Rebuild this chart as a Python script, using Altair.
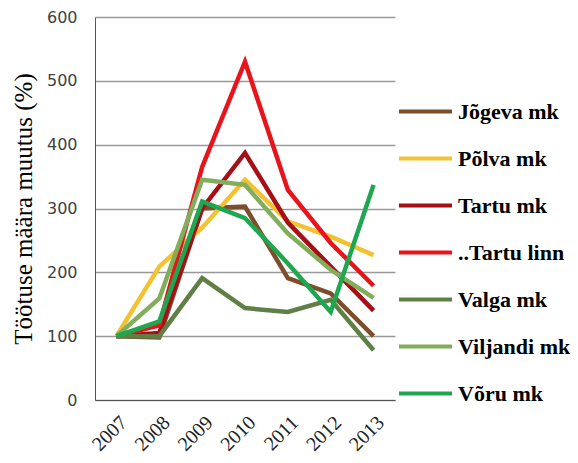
import altair as alt
import pandas as pd

years = ["2007", "2008", "2009", "2010", "2011", "2012", "2013"]
series = ["Jõgeva mk", "Põlva mk", "Tartu mk", "..Tartu linn", "Valga mk", "Viljandi mk", "Võru mk"]
jogeva = [100, 98, 300, 303, 191, 167, 100]
polva = [100, 209, 270, 345, 280, 256, 227]
tartu_mk = [100, 105, 300, 387, 278, 209, 140]
tartu_linn = [100, 117, 365, 530, 329, 246, 179]
valga = [100, 100, 191, 144, 138, 157, 78]
viljandi = [100, 159, 345, 337, 261, 204, 160]
voru = [100, 123, 311, 285, 214, 138, 337]
colors = ["#7E4E2C", "#F2C230", "#A50F15", "#E8141C", "#5F7F45", "#80AE5A", "#1FA750"]

SERIF = "Liberation Serif, Times New Roman, serif"

values = [jogeva, polva, tartu_mk, tartu_linn, valga, viljandi, voru]
rows = []
for si, (name, vals) in enumerate(zip(series, values)):
    for y, v in zip(years, vals):
        rows.append({"Aasta": y, "Seeria": name, "Väärtus": v, "ord": si})
df = pd.DataFrame(rows)

chart = alt.Chart(df).mark_line(strokeWidth=4.5).encode(
    x=alt.X("Aasta:O", title=None, sort=years,
            axis=alt.Axis(labelAngle=-45, labelFont=SERIF, labelFontSize=20,
                          labelColor="#222222", ticks=False, domainColor="#555555",
                          labelPadding=12, grid=False)),
    y=alt.Y("Väärtus:Q", title="Töötuse määra muutus (%)",
            scale=alt.Scale(domain=[0, 600]),
            axis=alt.Axis(values=[0, 100, 200, 300, 400, 500, 600], ticks=False,
                          labelFont="DejaVu Sans", labelFontSize=16, labelColor="#404040",
                          labelFontWeight="normal",
                          labelPadding=18, titleFont=SERIF, titleFontSize=25,
                          titleFontWeight="normal", titleColor="#000000", titlePadding=10,
                          gridColor="#999999", gridWidth=1.3, domainColor="#555555")),
    color=alt.Color("Seeria:N", scale=alt.Scale(domain=series, range=colors),
                    legend=alt.Legend(title=None, orient="none", legendX=302, legendY=66,
                                      symbolType="stroke", symbolSize=2809, symbolStrokeWidth=4,
                                      labelFont=SERIF, labelFontSize=22,
                                      labelFontWeight="bold", labelColor="#000000",
                                      rowPadding=7, labelOffset=4)),
    order=alt.Order("ord:Q"),
    detail="Seeria:N",
).properties(
    width=300, height=383,
    autosize=alt.AutoSizeParams(type="none"),
    padding={"left": 87, "top": 9, "right": 175, "bottom": 55},
).configure_view(stroke=None).configure_scale(bandPaddingInner=0, bandPaddingOuter=0)

chart.save("out.html", embed_options={"renderer": "svg", "actions": False})
